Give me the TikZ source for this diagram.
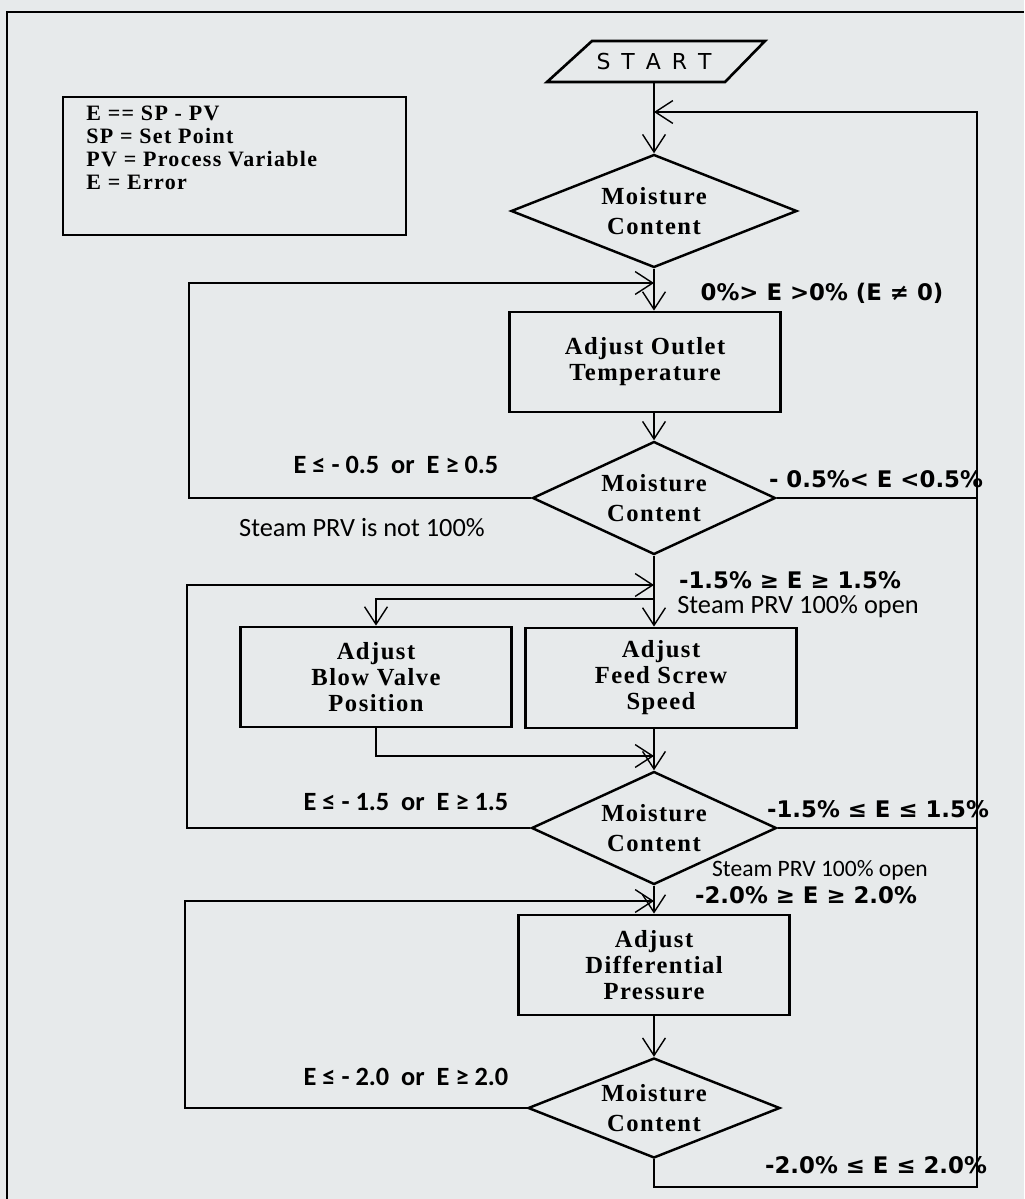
\documentclass[tikz,border=0pt]{standalone}
\usepackage{fontspec}
\setmainfont{Liberation Serif}
\newfontfamily\boxfont[LetterSpace=6]{Liberation Serif}
\newfontfamily\labelfont{DejaVu Sans}
\newfontfamily\notefont{Carlito}
\usetikzlibrary{shapes.geometric,arrows.meta}
\definecolor{paper}{RGB}{231,234,235}

\begin{document}
\begin{tikzpicture}[x=0.02cm,y=-0.02cm,
  flow/.style={line width=0.8pt,-{Straight Barb[length=10pt,width=13pt,line width=0.8pt]}},
  link/.style={line width=0.8pt},
  stepbox/.style={draw,line width=1.6pt,minimum width=5.42cm,minimum height=2cm,align=center,
    font=\boxfont\bfseries\fontsize{14}{14.8}\selectfont},
  check/.style={draw,diamond,aspect=2.5,line width=1.4pt,inner sep=0pt,align=center,
    font=\boxfont\bfseries\fontsize{14}{17}\selectfont},
  cond/.style={font=\labelfont\bfseries\fontsize{13}{15}\selectfont},
  note/.style={font=\notefont\fontsize{15}{17}\selectfont},
  branch/.style={font=\notefont\bfseries\fontsize{15}{17}\selectfont}]

\path[use as bounding box,fill=paper] (0,0) rectangle (1024,1199);
\draw[line width=1.4pt] (7,1199) -- (7,12) -- (1024,12);

\node[draw,line width=0.8pt,minimum width=6.86cm,minimum height=2.76cm] (legend) at (234.5,166) {};
\node[anchor=north west,align=left,inner sep=0pt,
  font=\boxfont\bfseries\fontsize{12.5}{13}\selectfont] (keys) at (86,106)
  {E == SP - PV\\SP = Set Point\\PV = Process Variable\\E = Error};

\draw[line width=1.5pt] (547,82) -- (592,41) -- (765,41) -- (725,82) -- cycle;
\node[minimum height=0.82cm,inner sep=0pt,font=\labelfont\fontsize{12.5}{14}\selectfont] (start) at (654,61.5)
  {S\hspace{.5em}T\hspace{.5em}A\hspace{.5em}R\hspace{.5em}T};

\node[check,minimum width=5.72cm,minimum height=2.26cm] (mc1) at (654,211) {Moisture\\Content};
\node[stepbox] (outlet) at (645,362) {Adjust Outlet\\Temperature};
\node[check,minimum width=4.86cm,minimum height=2.26cm] (mc2) at (654,498) {Moisture\\Content};
\node[stepbox] (blow) at (376,677) {Adjust\\Blow Valve\\Position};
\node[stepbox] (feed) at (661,678) {Adjust\\Feed Screw\\Speed};
\node[check,minimum width=4.9cm,minimum height=2.26cm] (mc3) at (654,828) {Moisture\\Content};
\node[stepbox] (diffp) at (654,965) {Adjust\\Differential\\Pressure};
\node[check,minimum width=5.04cm,minimum height=2cm] (mc4) at (654,1108) {Moisture\\Content};

\coordinate (back) at (977,1187);
\coordinate (in0) at (654,112);
\coordinate (loopA) at (189,283);
\coordinate (inA) at (654,283);
\coordinate (loopB) at (187,585);
\coordinate (inB) at (654,585);
\coordinate (split) at (654,599);
\coordinate (inC) at (654,756);
\coordinate (loopC) at (185,901);
\coordinate (inD) at (654,901);

\draw[flow] (start) -- (mc1);
\draw[flow] (mc4.south) |- (back) |- (in0);
\draw[flow] (mc1) -- (mc1.south |- outlet.north);
\draw[flow] (mc2.west) -| (loopA) -- (inA);
\draw[flow] (mc2.north |- outlet.south) -- (mc2);
\draw[link] (mc2.east) -- (mc2.east -| back);
\draw[flow] (mc2) -- (mc2.south |- feed.north);
\draw[flow] (mc3.west) -| (loopB) -- (inB);
\draw[flow] (split) -| (blow.north);
\draw[flow] (blow.south) |- (inC);
\draw[flow] (mc3.north |- feed.south) -- (mc3);
\draw[link] (mc3.east) -- (mc3.east -| back);
\draw[flow] (mc3) -- (diffp);
\draw[flow] (mc4.west) -| (loopC) -- (inD);
\draw[flow] (diffp) -- (mc4);

\node[cond] (c1) at (822,293) {0\%> E >0\% (E ≠ 0)};
\node[cond] (c2) at (876,479) {- 0.5\%< E <0.5\%};
\node[branch] (b1) at (396,465) {E ≤ - 0.5 \ or \ E ≥ 0.5};
\node[note] (n1) at (362,528) {Steam PRV is not 100\%};
\node[cond] (c3) at (790,580) {-1.5\% ≥ E ≥ 1.5\%};
\node[note] (n2) at (798,607) {Steam PRV 100\% open};
\node[branch] (b2) at (406,802) {E ≤ - 1.5 \ or \ E ≥ 1.5};
\node[cond] (c4) at (878,809) {-1.5\% ≤ E ≤ 1.5\%};
\node[note,font=\notefont\fontsize{13.4}{15}\selectfont] (n3) at (820,870) {Steam PRV 100\% open};
\node[cond] (c5) at (806,895) {-2.0\% ≥ E ≥ 2.0\%};
\node[branch] (b3) at (406,1077) {E ≤ - 2.0 \ or \ E ≥ 2.0};
\node[cond] (c6) at (876,1165) {-2.0\% ≤ E ≤ 2.0\%};

\end{tikzpicture}
\end{document}
